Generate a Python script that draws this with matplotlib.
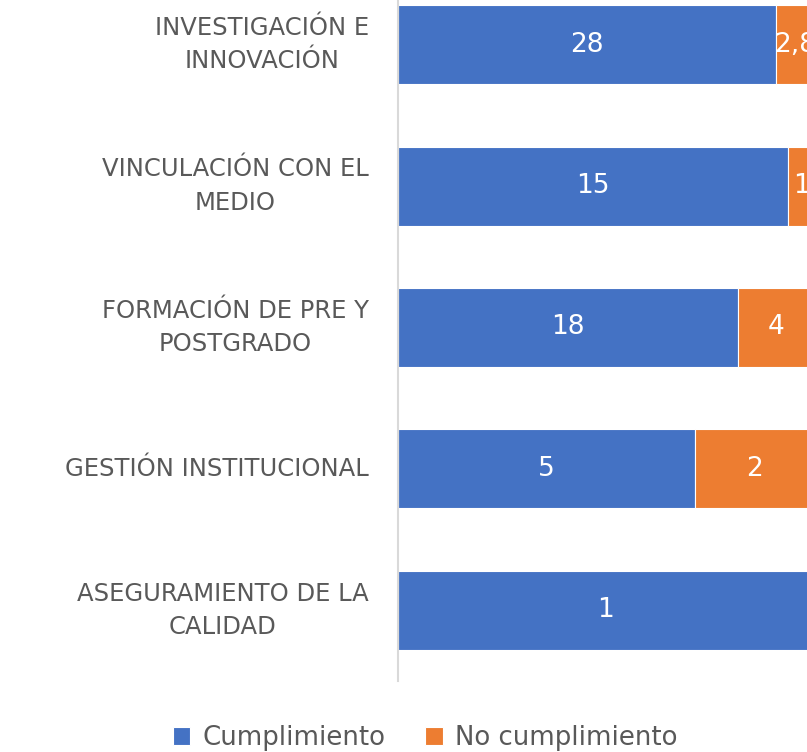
import numpy as np
import matplotlib.pyplot as plt

## Data (bottom to top, as drawn)
categories = ["ASEGURAMIENTO DE LA\nCALIDAD",
              "GESTIÓN INSTITUCIONAL",
              "FORMACIÓN DE PRE Y\nPOSTGRADO",
              "VINCULACIÓN CON EL\nMEDIO",
              "INVESTIGACIÓN E\nINNOVACIÓN"]
cumplimiento = [1, 5, 18, 15, 28]
no_cumplimiento = [0, 2, 4, 1, 2.8]
series_names = ["Cumplimiento", "No cumplimiento"]

blue = "#4472C4"
orange = "#ED7D31"
gray_text = "#595959"

plt.rcParams['font.family'] = ['DejaVu Sans']

fig = plt.figure(figsize=(8.07, 7.52), dpi=100)
# the original chart is cropped on the right and top, so the axes runs past the figure
ax = fig.add_axes([398/807, 1 - 681/752, 416/807, 707/752])

c = np.array(cumplimiento, dtype=float)
n = np.array(no_cumplimiento, dtype=float)
tot = c + n
fc = c / tot
fn = n / tot
y = np.arange(len(categories))
h = 0.56

b1 = ax.barh(y, fc, height=h, color=blue, edgecolor="white", linewidth=0.8,
             label=series_names[0])
b2 = ax.barh(y, fn, left=fc, height=h, color=orange, edgecolor="white", linewidth=0.8,
             label=series_names[1])

def fmt(v):
    return f"{v:g}".replace(".", ",")

for i in range(len(y)):
    ax.text(fc[i]/2, y[i], fmt(c[i]), ha="center", va="center",
            color="white", fontsize=19)
    if n[i] > 0:
        ax.text(fc[i] + fn[i]/2, y[i], fmt(n[i]), ha="center", va="center",
                color="white", fontsize=19)

ax.set_xlim(0, 1)
ax.set_ylim(-0.5, len(categories) - 0.5)
ax.set_yticks(y)
ax.set_yticklabels(categories, fontsize=17.5, color=gray_text, linespacing=1.5)
for t in ax.get_yticklabels():
    t.set_multialignment("center")
    t.set_verticalalignment("center")
ax.tick_params(axis="y", length=0, pad=21)
ax.tick_params(axis="x", bottom=False, labelbottom=False)
for s in ["top", "right", "bottom"]:
    ax.spines[s].set_visible(False)
ax.spines["left"].set_color("#d9d9d9")
ax.spines["left"].set_linewidth(1.5)

leg = fig.legend(handles=[b1, b2], loc="center", bbox_to_anchor=(425/807, 1 - 738/752),
                 ncol=2, frameon=False, fontsize=18.7, handlelength=0.68, handleheight=0.68,
                 handletextpad=0.45, columnspacing=1.55, borderaxespad=0)
for t in leg.get_texts():
    t.set_color(gray_text)

fig.savefig("out.png", dpi=100)
